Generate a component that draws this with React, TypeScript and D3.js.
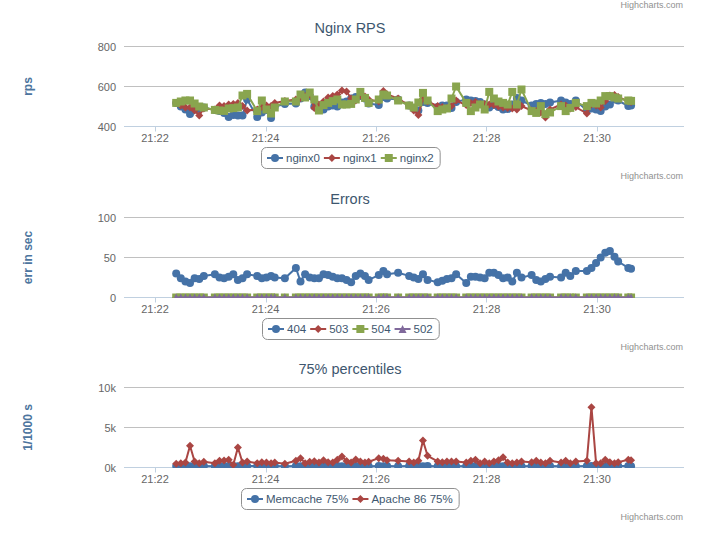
import React from 'react';
import * as d3 from 'd3';

const FONT = "'Liberation Sans', Arial, Helvetica, sans-serif";

// sample times, seconds after 21:22:00
const timesSec = [
  23, 28, 33, 38, 43, 48, 53,
  65, 70, 75, 80, 85, 90, 95, 100,
  111, 116, 121, 126, 130,
  141,
  153, 158, 163, 168, 173, 178, 183, 188, 193, 198, 203, 208, 213, 218, 223, 228, 232,
  243, 248, 252,
  264,
  276, 281, 286, 291, 296,
  307, 312, 317, 322, 327,
  338, 343, 348, 353, 358, 363, 368, 373, 378, 383, 388, 393, 398,
  409, 414, 419, 424, 429,
  441, 446, 451, 457,
  469, 474, 479, 484, 489, 494, 499, 503,
  514, 517,
];
const xTickSec = [0, 120, 240, 360, 480];
const xTickLabels = ['21:22', '21:24', '21:26', '21:28', '21:30'];
const xDomainSec = [-33.7, 574.5];

// ---- Nginx RPS ----
const nginx0 = [
  518, 500, 485, 462, 485, 487, 495,
  482, 477, 468, 447, 458, 455, 455, 535,
  447, 470, 483, 443, 500,
  512,
  515, 540, 570, 552, 500, 488, 485, 500, 505, 500, 520, 525, 540, 548, 552, 540, 515,
  508, 548, 540,
  535,
  505, 490, 480, 523, 518,
  497, 505, 505, 493, 523,
  535, 530, 527, 522, 510, 495, 508, 498, 485, 488, 510, 543, 530,
  505, 512, 518, 512, 520,
  530, 520, 512, 530,
  480, 490, 485, 477, 500, 510, 535, 530,
  502, 505,
];
const nginx1 = [
  518, 505, 495, 495, 480, 455, 490,
  485, 505, 503, 510, 513, 518, 502, 480,
  485, 498, 505, 502, 518,
  528,
  535, 543, 553, 560, 493, 510, 525, 545, 552, 560, 580, 575, 540, 530, 555, 550, 535,
  525, 578, 560,
  540,
  505, 480, 458, 540, 525,
  502, 498, 493, 502, 530,
  507, 518, 523, 512, 512, 510, 507, 500, 495, 493, 490, 485, 502,
  480, 477, 470, 445, 485,
  510, 505, 490, 497,
  465, 510, 505, 495, 527, 555, 558, 548,
  525, 522,
];
const nginx2 = [
  518, 525, 530, 530, 515, 500, 495,
  483, 480, 478, 490, 492, 495, 555, 563,
  477, 530, 485, 465, 495,
  525,
  525, 560, 545, 570, 535, 480, 507, 518, 527, 535, 510, 510, 513, 535, 573, 543, 518,
  535, 560, 555,
  530,
  505, 495, 520, 568, 530,
  477, 485, 490, 540, 600,
  518, 477, 495, 510, 485, 573, 540, 525, 518, 510, 573, 510, 585,
  477, 468, 502, 462, 470,
  502, 477, 493, 518,
  502, 518, 515, 530, 552, 552, 545, 540,
  530, 528,
];
const rpsTicks = [400, 600, 800];
const rpsTickLabels = ['400', '600', '800'];

// ---- Errors ----
const err404 = [
  30, 24, 20, 18, 24, 23, 27,
  29, 25, 24, 26, 29, 22, 24, 29,
  27, 24, 25, 27, 25,
  24,
  37, 20, 29, 25, 24, 24, 29, 28, 26, 24, 24, 22, 19, 27, 30, 27, 22,
  28, 33, 29,
  31,
  27, 25, 23, 29, 22,
  19, 21, 23, 24, 29,
  18, 26, 26, 25, 24, 31, 31, 28, 24, 25, 20, 31, 25,
  28, 22, 20, 23, 26,
  25, 31, 27, 33,
  33, 37, 43, 50, 56, 58, 51, 45,
  37, 36,
];
const err503 = [
  0, 0, 0, 0, 0, 0, 0, 0, 0, 0, 0, 0, 0, 0, 0, 0, 0, 0, 0, 0, 0,
  0, 0, 0, 0, 0, 0, 0, 0, 0, 0, 0, 0, 0, 0, 0, 0, 0, 0, 0, 0, 0,
  0, 0, 0, 0, 0, 0, 0, 0, 0, 0, 0, 0, 0, 0, 0, 0, 0, 0, 0, 0, 0,
  0, 0, 0, 0, 0, 0, 0, 0, 0, 0, 0, 0, 0, 0, 0, 0, 0, 0, 0, 0, 0,
];
const err504 = [
  0, 0, 0, 0, 0, 0, 0, 0, 0, 0, 0, 0, 0, 0, 0, 0, 0, 0, 0, 0, 0,
  0, 0, 0, 0, 0, 0, 0, 0, 0, 0, 0, 0, 0, 0, 0, 0, 0, 0, 0, 0, 0,
  0, 0, 0, 0, 0, 0, 0, 0, 0, 0, 0, 0, 0, 0, 0, 0, 0, 0, 0, 0, 0,
  0, 0, 0, 0, 0, 0, 0, 0, 0, 0, 0, 0, 0, 0, 0, 0, 0, 0, 0, 0, 0,
];
const err502 = [
  0, 0, 0, 0, 0, 0, 0, 0, 0, 0, 0, 0, 0, 0, 0, 0, 0, 0, 0, 0, 0,
  0, 0, 0, 0, 0, 0, 0, 0, 0, 0, 0, 0, 0, 0, 0, 0, 0, 0, 0, 0, 0,
  0, 0, 0, 0, 0, 0, 0, 0, 0, 0, 0, 0, 0, 0, 0, 0, 0, 0, 0, 0, 0,
  0, 0, 0, 0, 0, 0, 0, 0, 0, 0, 0, 0, 0, 0, 0, 0, 0, 0, 0, 0, 0,
];
const errTicks = [0, 50, 100];
const errTickLabels = ['0', '50', '100'];

// ---- 75% percentiles ----
const memcache75 = [
  180, 160, 200, 170, 190, 160, 180,
  170, 190, 160, 180, 200, 170, 160, 190,
  180, 170, 160, 190, 180,
  170,
  180, 160, 190, 170, 200, 180, 160, 170, 190, 180, 170, 160, 180, 190, 170, 180, 160,
  190, 170, 180,
  160,
  180, 200, 190, 170, 180,
  160, 170, 190, 180, 170,
  180, 160, 190, 170, 180, 200, 160, 180, 170, 190, 180, 160, 170,
  190, 180, 170, 160, 180,
  170, 190, 180, 160,
  180, 200, 170, 190, 160, 180, 170, 190,
  180, 170,
];
const apache75 = [
  462, 545, 629, 2712, 754, 545, 712,
  545, 837, 879, 962, 337, 2504, 629, 754,
  545, 670, 629, 545, 629,
  462,
  837, 1170, 545, 712, 795, 629, 920, 670, 629, 962, 1379, 800, 629, 1004, 754, 629, 712,
  1170, 1087, 900,
  837,
  754, 629, 837, 3379, 1462,
  754, 670, 754, 754, 754,
  629, 837, 962, 545, 754, 545, 754, 900, 1295, 629, 545, 629, 754,
  670, 837, 629, 545, 837,
  629, 837, 545, 754,
  837, 7545, 545, 545, 962, 670, 545, 670,
  962, 900,
];
const pctTicks = [0, 5000, 10000];
const pctTickLabels = ['0k', '5k', '10k'];

type Sym = 'circle' | 'diamond' | 'square' | 'triangle';
interface Series { name: string; color: string; symbol: Sym; values: number[]; }

const C_BLUE = '#4572A7';
const C_RED = '#AA4643';
const C_GREEN = '#89A54E';
const C_PURPLE = '#80699B';

const PLOT_LEFT = 124;
const PLOT_RIGHT = 684;
const REL_TOP = 46.5;
const PLOT_H = 80;

let measureCtx: CanvasRenderingContext2D | null = null;
function textWidth(s: string, font: string): number {
  if (!measureCtx) {
    const c = document.createElement('canvas');
    measureCtx = c.getContext('2d');
  }
  if (!measureCtx) return s.length * 6;
  measureCtx.font = font;
  return measureCtx.measureText(s).width;
}

function Marker({ sym, x, y, color }: { sym: Sym; x: number; y: number; color: string }) {
  const r = 4;
  if (sym === 'circle') return <circle cx={x} cy={y} r={r} fill={color} />;
  if (sym === 'square') return <rect x={x - r} y={y - r} width={2 * r} height={2 * r} fill={color} />;
  if (sym === 'diamond')
    return <path d={`M${x},${y - r}L${x + r},${y}L${x},${y + r}L${x - r},${y}Z`} fill={color} />;
  return <path d={`M${x},${y - r}L${x + r},${y + r}L${x - r},${y + r}Z`} fill={color} />;
}

function Chart({ id, base, title, yTitle, ticks, tickLabels, series }: {
  id: string; base: number; title: string; yTitle: string;
  ticks: number[]; tickLabels: string[]; series: Series[];
}) {
  const top = base + REL_TOP;
  const bottom = top + PLOT_H;
  const x = d3.scaleLinear().domain(xDomainSec).range([PLOT_LEFT, PLOT_RIGHT]);
  const y = d3.scaleLinear().domain([ticks[0], ticks[ticks.length - 1]]).range([bottom, top]);
  const line = d3.line<number>().x((_, i) => x(timesSec[i])).y((d) => y(d));

  // legend layout
  const legendSize = 11.5;
  const legendFont = `${legendSize}px ${FONT}`;
  const pad = 6, symW = 16, symPad = 3, itemDist = 4;
  const widths = series.map((s) => textWidth(s.name, legendFont));
  const itemW = widths.map((w) => symW + symPad + w);
  const boxW = pad * 2 + d3.sum(itemW) + itemDist * (series.length - 1);
  const boxX = Math.round(350 - boxW / 2);
  const boxY = base + 147.5;
  const boxH = 21;
  const legendCy = boxY + boxH / 2;
  let cursor = boxX + pad;
  const items = series.map((s, i) => {
    const sx = cursor;
    cursor += itemW[i] + itemDist;
    return { s, sx };
  });

  return (
    <g>
      <text x={350} y={base + 33} textAnchor="middle" fontSize={14.5} fill="#3E576F" fontFamily={FONT}>
        {title}
      </text>
      {ticks.map((t, i) => (
        <g key={'g' + i}>
          <line x1={PLOT_LEFT} x2={PLOT_RIGHT} y1={y(t)} y2={y(t)} stroke="#C0C0C0" strokeWidth={1} />
          <text x={116} y={y(t) + 4} textAnchor="end" fontSize={11} fill="#666" fontFamily={FONT}>
            {tickLabels[i]}
          </text>
        </g>
      ))}
      <text
        transform={`translate(32,${(top + bottom) / 2}) rotate(-90)`}
        textAnchor="middle" fontSize={12} fontWeight="bold" fill="#4d759e" fontFamily={FONT}
      >
        {yTitle}
      </text>
      <line x1={PLOT_LEFT} x2={PLOT_RIGHT} y1={bottom} y2={bottom} stroke="#C0D0E0" strokeWidth={1} />
      {xTickSec.map((t, i) => (
        <g key={'x' + i}>
          <line x1={Math.round(x(t)) + 0.5} x2={Math.round(x(t)) + 0.5} y1={bottom} y2={bottom + 5} stroke="#C0D0E0" />
          <text x={x(t)} y={bottom + 15} textAnchor="middle" fontSize={11} fill="#666" fontFamily={FONT}>
            {xTickLabels[i]}
          </text>
        </g>
      ))}
      <defs>
        <clipPath id={id}>
          <rect x={PLOT_LEFT} y={top - 10} width={PLOT_RIGHT - PLOT_LEFT} height={PLOT_H + 10.5} />
        </clipPath>
      </defs>
      <g clipPath={`url(#${id})`}>
        {series.map((s, si) => (
          <g key={'s' + si}>
            <path d={line(s.values) || ''} fill="none" stroke={s.color} strokeWidth={2}
              strokeLinejoin="round" strokeLinecap="round" />
            {s.values.map((v, i) => (
              <Marker key={i} sym={s.symbol} x={x(timesSec[i])} y={y(v)} color={s.color} />
            ))}
          </g>
        ))}
      </g>
      <rect x={boxX + 0.5} y={boxY} width={boxW} height={boxH} rx={5} ry={5}
        fill="#fff" stroke="#909090" strokeWidth={1} />
      {items.map(({ s, sx }, i) => (
        <g key={'l' + i}>
          <line x1={sx} x2={sx + symW} y1={legendCy} y2={legendCy} stroke={s.color} strokeWidth={2} />
          <Marker sym={s.symbol} x={sx + symW / 2} y={legendCy} color={s.color} />
          <text x={sx + symW + symPad} y={legendCy + 4} fontSize={legendSize} fill="#3E576F" fontFamily={FONT}>
            {s.name}
          </text>
        </g>
      ))}
      <text x={683} y={base + 179} textAnchor="end" fontSize={9} fill="#909090" fontFamily={FONT}>
        Highcharts.com
      </text>
    </g>
  );
}

export default function App() {
  return (
    <svg width={720} height={536} style={{ position: 'absolute', left: 0, top: 0, background: '#fff' }}
      xmlns="http://www.w3.org/2000/svg">
      <rect x={0} y={0} width={720} height={536} fill="#fff" />
      <text x={683} y={8} textAnchor="end" fontSize={9} fill="#909090" fontFamily={FONT}>
        Highcharts.com
      </text>
      <Chart id="c1" base={0} title="Nginx RPS" yTitle="rps" ticks={rpsTicks} tickLabels={rpsTickLabels}
        series={[
          { name: 'nginx0', color: C_BLUE, symbol: 'circle', values: nginx0 },
          { name: 'nginx1', color: C_RED, symbol: 'diamond', values: nginx1 },
          { name: 'nginx2', color: C_GREEN, symbol: 'square', values: nginx2 },
        ]} />
      <Chart id="c2" base={171} title="Errors" yTitle="err in sec" ticks={errTicks} tickLabels={errTickLabels}
        series={[
          { name: '404', color: C_BLUE, symbol: 'circle', values: err404 },
          { name: '503', color: C_RED, symbol: 'diamond', values: err503 },
          { name: '504', color: C_GREEN, symbol: 'square', values: err504 },
          { name: '502', color: C_PURPLE, symbol: 'triangle', values: err502 },
        ]} />
      <Chart id="c3" base={341} title="75% percentiles" yTitle="1/1000 s" ticks={pctTicks} tickLabels={pctTickLabels}
        series={[
          { name: 'Memcache 75%', color: C_BLUE, symbol: 'circle', values: memcache75 },
          { name: 'Apache 86 75%', color: C_RED, symbol: 'diamond', values: apache75 },
        ]} />
    </svg>
  );
}
